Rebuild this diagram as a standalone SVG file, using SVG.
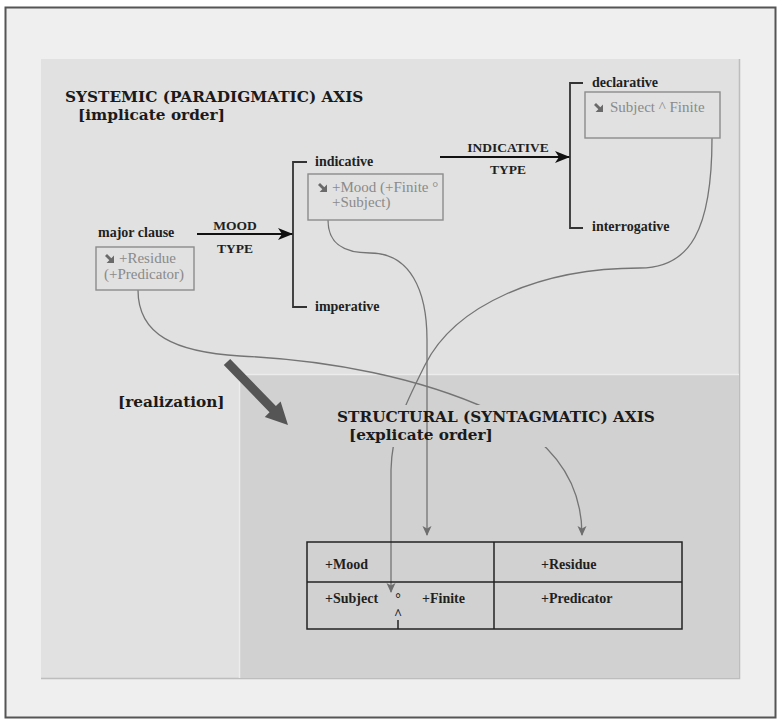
<svg xmlns="http://www.w3.org/2000/svg" width="780" height="719" viewBox="0 0 780 719">
  <style>
    .title { font-family: "DejaVu Serif", serif; font-weight: bold; font-size: 15.3px; fill: #1a1a1a; }
    .label { font-family: "Liberation Serif", serif; font-weight: bold; font-size: 14px; fill: #1f1f1f; }
    .type { font-family: "Liberation Serif", serif; font-weight: bold; font-size: 13.5px; fill: #1f1f1f; text-anchor: middle; }
    .boxtext { font-family: "Liberation Serif", serif; font-size: 15px; fill: #8a8a8a; }
    .cell { font-family: "Liberation Serif", serif; font-weight: bold; font-size: 14px; fill: #1f1f1f; }
    .feature { fill: none; stroke: #8c8c8c; stroke-width: 1.4; }
    .bracket { fill: none; stroke: #333; stroke-width: 1.8; }
    .realize { fill: none; stroke: #747474; stroke-width: 1.3; }
    .system { stroke: #111; stroke-width: 1.8; }
    .grid { fill: none; stroke: #222; stroke-width: 1.5; }
  </style>
  <defs>
    <marker id="headBlack" markerWidth="16" markerHeight="12" refX="15" refY="6" orient="auto" markerUnits="userSpaceOnUse">
      <path d="M0,0 L15,6 L0,12 L4,6 Z" fill="#111"/>
    </marker>
    <marker id="headGray" markerWidth="10" markerHeight="14" refX="9" refY="5" orient="auto" markerUnits="userSpaceOnUse">
      <path d="M0,0.5 L10,5 L0,9.5 L2.5,5 Z" fill="#6e6e6e"/>
    </marker>
    <!-- heavy south-east arrow used as the realization-statement icon -->
    <path id="seArrow" d="M0,2 L2,0 L6.3,4.3 L9,1.6 L9,9 L1.6,9 L4.3,6.3 Z" fill="#6a6a6a"/>
  </defs>

  <!-- frame and panels -->
  <rect x="5.5" y="7.5" width="770" height="710" fill="#efefef" stroke="#555" stroke-width="2"/>
  <rect x="41" y="59" width="698" height="619" fill="#e1e1e1"/>
  <path d="M739.5,59 V678.5 H41" fill="none" stroke="#bdbdbd" stroke-width="1.5"/>
  <rect x="239" y="374" width="500" height="304" fill="#d1d1d1"/>
  <path d="M239.5,678 V374.5 H739" fill="none" stroke="#ececec" stroke-width="1.5"/>

  <!-- realization connectors (the first two run behind the structural heading) -->
  <g id="connectors">
    <path id="c-residue" class="realize" d="M138,290 C138,335 175,352 240,356 C330,360 420,378 490,410 C550,438 582,480 582,535" marker-end="url(#headGray)"/>
    <path id="c-declarative" class="realize" d="M712,138 C712,230 690,268 640,268 C540,268 455,305 425,365 C405,405 392,430 391,470 L391,592" marker-end="url(#headGray)"/>
    <rect x="332" y="405" width="336" height="42" fill="#d1d1d1"/>
    <path id="c-indicative" class="realize" d="M328,220 C328,245 345,253 370,253 C410,253 427,290 427,340 L427,535" marker-end="url(#headGray)"/>
    <line class="system" x1="197" y1="234" x2="293" y2="234" marker-end="url(#headBlack)"/>
    <line class="system" x1="440" y1="157" x2="570" y2="157" marker-end="url(#headBlack)"/>
  </g>

  <!-- headings -->
  <g id="systemic-heading">
    <text class="title" x="65" y="102">SYSTEMIC (PARADIGMATIC) AXIS</text>
    <text class="title" x="78" y="120">[implicate order]</text>
  </g>
  <g id="structural-heading">
    <text class="title" x="337" y="422">STRUCTURAL (SYNTAGMATIC) AXIS</text>
    <text class="title" x="349" y="440">[explicate order]</text>
  </g>

  <!-- major clause -->
  <g id="major-clause">
    <text class="label" x="98" y="237">major clause</text>
    <rect class="feature" x="96" y="247" width="98" height="43"/>
    <use href="#seArrow" x="105" y="254"/>
    <text class="boxtext" x="119" y="263">+Residue</text>
    <text class="boxtext" x="104" y="279">(+Predicator)</text>
  </g>

  <g id="mood-type">
    <text class="type" x="235" y="230">MOOD</text>
    <text class="type" x="235" y="253">TYPE</text>
    <path class="bracket" d="M307,162 H293 V307 H307"/>
  </g>

  <g id="indicative">
    <text class="label" x="315" y="166">indicative</text>
    <rect class="feature" x="308" y="174" width="135" height="46"/>
    <use href="#seArrow" x="318" y="183"/>
    <text class="boxtext" x="332" y="192">+Mood (+Finite °</text>
    <text class="boxtext" x="332" y="207">+Subject)</text>
  </g>

  <g id="imperative">
    <text class="label" x="315" y="311">imperative</text>
  </g>

  <g id="indicative-type">
    <text class="type" x="508" y="152">INDICATIVE</text>
    <text class="type" x="508" y="174">TYPE</text>
    <path class="bracket" d="M583,83 H570 V228 H583"/>
  </g>

  <g id="declarative">
    <text class="label" x="592" y="87">declarative</text>
    <rect class="feature" x="585" y="92" width="135" height="46"/>
    <use href="#seArrow" x="594" y="103"/>
    <text class="boxtext" x="610" y="112">Subject ^ Finite</text>
  </g>

  <g id="interrogative">
    <text class="label" x="592" y="231">interrogative</text>
  </g>

  <!-- realization arrow -->
  <g id="realization">
    <polygon points="223.8,365.1 230.2,358.9 275.9,406.1 280.6,401.5 288,425 264.8,416.9 269.5,412.3" fill="#555"/>
    <text class="title" x="118" y="407">[realization]</text>
  </g>

  <!-- function structure -->
  <g id="structure">
    <rect class="grid" x="307" y="542" width="375" height="87"/>
    <line class="grid" x1="307" y1="582" x2="682" y2="582"/>
    <line class="grid" x1="494" y1="542" x2="494" y2="629"/>
    <line class="grid" x1="398" y1="620" x2="398" y2="629"/>
    <text class="cell" x="325" y="569">+Mood</text>
    <text class="cell" x="541" y="569">+Residue</text>
    <text class="cell" x="325" y="603">+Subject</text>
    <text class="cell" x="398" y="603" text-anchor="middle" font-size="12px">°</text>
    <text class="cell" x="398" y="619" text-anchor="middle" font-size="12px">^</text>
    <text class="cell" x="422" y="603">+Finite</text>
    <text class="cell" x="541" y="603">+Predicator</text>
  </g>
</svg>
